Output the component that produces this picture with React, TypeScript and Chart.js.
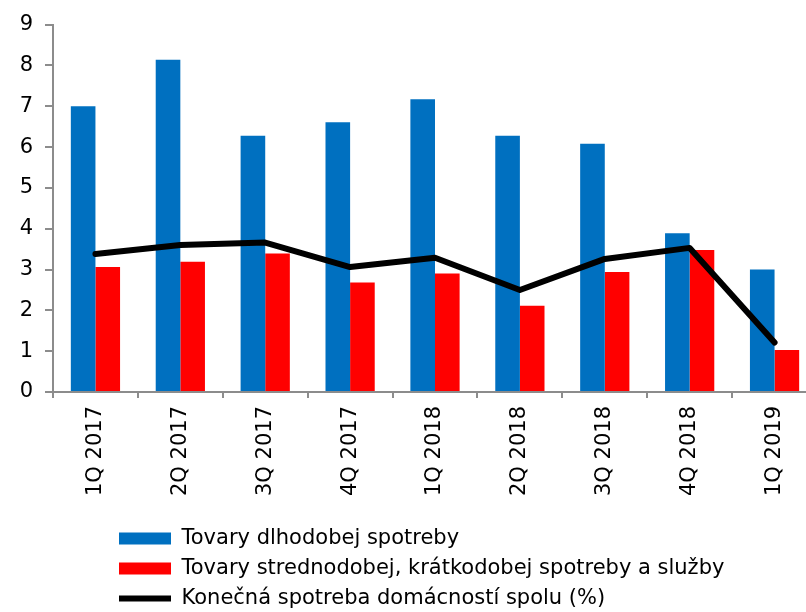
import React, { useEffect, useRef } from "react";
import { Chart, registerables } from "chart.js";

Chart.register(...registerables);

const categories = ["1Q 2017", "2Q 2017", "3Q 2017", "4Q 2017", "1Q 2018", "2Q 2018", "3Q 2018", "4Q 2018", "1Q 2019"];
const durableGoods = [7.0, 8.14, 6.28, 6.61, 7.17, 6.28, 6.08, 3.89, 3.0];
const otherGoodsServices = [3.06, 3.19, 3.39, 2.68, 2.9, 2.11, 2.94, 3.48, 1.03];
const totalConsumption = [3.38, 3.6, 3.66, 3.06, 3.29, 2.5, 3.26, 3.53, 1.21];

const seriesNames = [
  "Tovary dlhodobej spotreby",
  "Tovary strednodobej, krátkodobej spotreby a služby",
  "Konečná spotreba domácností spolu (%)",
];

const FONT = "'DejaVu Sans', Verdana, sans-serif";
const FONT_SIZE = 21;
const AXIS_GRAY = "#8c8c8c";

const legendShift = {
  id: "legendShift",
  afterLayout(chart: any) {
    const lg = chart.legend;
    if (!lg) return;
    const dx = 110 - lg.left;
    lg.left += dx;
    lg.right += dx;
  },
};

export default function App() {
  const ref = useRef<HTMLCanvasElement | null>(null);

  useEffect(() => {
    if (!ref.current) return;
    const chart = new Chart(ref.current, {
      type: "bar",
      data: {
        labels: categories,
        datasets: [
          {
            type: "line",
            label: seriesNames[2],
            data: totalConsumption,
            borderColor: "#000000",
            backgroundColor: "#000000",
            borderWidth: 6,
            borderCapStyle: "round",
            borderJoinStyle: "round",
            pointRadius: 0,
            pointStyle: "line",
            tension: 0,
            order: 0,
          } as any,
          {
            type: "bar",
            label: seriesNames[0],
            data: durableGoods,
            backgroundColor: "#0070C0",
            borderWidth: 0,
            pointStyle: "rect",
            categoryPercentage: 0.58,
            barPercentage: 1,
            order: 1,
          } as any,
          {
            type: "bar",
            label: seriesNames[1],
            data: otherGoodsServices,
            backgroundColor: "#FF0000",
            borderWidth: 0,
            pointStyle: "rect",
            categoryPercentage: 0.58,
            barPercentage: 1,
            order: 1,
          } as any,
        ],
      },
      options: {
        animation: false,
        responsive: true,
        maintainAspectRatio: false,
        layout: { padding: { top: 20, right: 13, bottom: 1, left: 0 } },
        plugins: {
          tooltip: { enabled: false },
          legend: {
            position: "bottom",
            align: "start",
            labels: {
              usePointStyle: true,
              pointStyleWidth: 52,
              boxHeight: 12,
              padding: 9,
              color: "#000000",
              font: { family: FONT, size: FONT_SIZE },
              sort: (a: any, b: any) => a.datasetIndex === 0 ? 1 : b.datasetIndex === 0 ? -1 : a.datasetIndex - b.datasetIndex,
            },
          },
        },
        scales: {
          x: {
            offset: true,
            grid: {
              display: true,
              drawOnChartArea: false,
              drawTicks: true,
              tickLength: 6,
              color: AXIS_GRAY,
              lineWidth: 2,
              offset: true,
            },
            border: { display: true, color: AXIS_GRAY, width: 2 },
            ticks: {
              minRotation: 90,
              maxRotation: 90,
              autoSkip: false,
              padding: 8,
              color: "#000000",
              font: { family: FONT, size: FONT_SIZE },
            },
            afterFit: (s: any) => {
              s.height = 127;
            },
          },
          y: {
            min: 0,
            max: 9,
            grid: {
              display: true,
              drawOnChartArea: false,
              drawTicks: true,
              tickLength: 8,
              color: AXIS_GRAY,
              lineWidth: 2,
            },
            border: { display: true, color: AXIS_GRAY, width: 2 },
            ticks: {
              stepSize: 1,
              padding: 12,
              color: "#000000",
              font: { family: FONT, size: FONT_SIZE },
            },
            afterFit: (s: any) => {
              s.width = 53;
            },
          },
        },
      },
      plugins: [legendShift],
    });
    return () => chart.destroy();
  }, []);

  return (
    <div style={{ position: "fixed", left: 0, top: 0, width: 806, height: 612, overflow: "hidden", background: "#ffffff" }}>
      <div style={{ position: "relative", width: 830, height: 620 }}>
        <canvas ref={ref} />
      </div>
    </div>
  );
}
